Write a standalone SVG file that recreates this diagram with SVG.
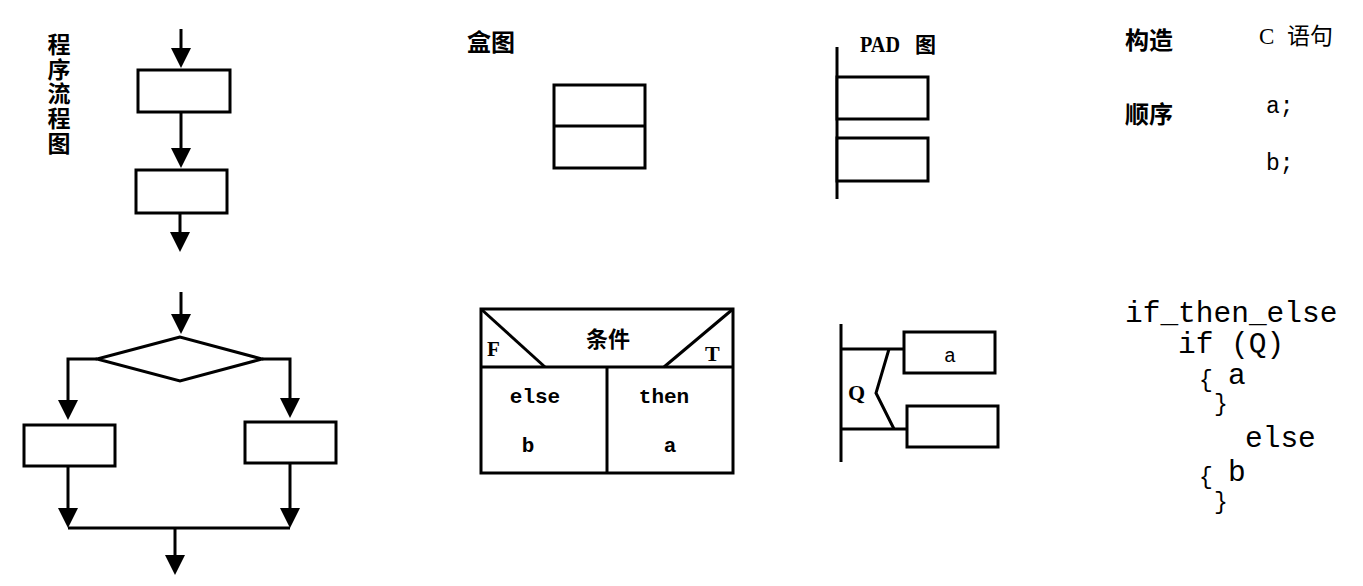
<svg xmlns="http://www.w3.org/2000/svg" width="1363" height="586" viewBox="0 0 1363 586">
<defs>
<style>
.s{fill:none;stroke:#000;stroke-width:3;stroke-linecap:butt;stroke-linejoin:miter}
.box{fill:#fff;stroke:#000;stroke-width:3}
.cjk{font-family:"Noto Sans CJK SC","Noto Sans CJK JP",sans-serif;font-weight:bold;fill:#000}
.cjkn{font-family:"Noto Sans CJK SC","Noto Sans CJK JP",sans-serif;font-weight:normal;fill:#000}
.ser{font-family:"Liberation Serif","Noto Sans CJK SC",serif;fill:#000}
.mono{font-family:"Liberation Mono","DejaVu Sans Mono",monospace;fill:#000}
.code{font-family:"Liberation Mono","DejaVu Sans Mono",monospace;fill:#000;font-size:29.5px}
.brace{font-family:"Liberation Mono","DejaVu Sans Mono",monospace;fill:#000;font-size:23px}
.arr{fill:none;stroke:#000;stroke-width:3;marker-end:url(#ah)}
</style>
<marker id="ah" viewBox="0 0 20 20" markerWidth="20" markerHeight="20" markerUnits="userSpaceOnUse" refX="15" refY="10" orient="auto">
<path d="M0,0 L20,10 L0,20 Z" fill="#000"/>
</marker>
</defs>
<rect width="1363" height="586" fill="#fff"/>

<!-- Program flowchart: sequence -->
<g id="flow-title">
<text class="cjk" x="59" y="33" font-size="23" writing-mode="vertical-rl" letter-spacing="1.6">程序流程图</text>
</g>
<g id="flow-box1"><rect class="box" x="138" y="70" width="92" height="42"/></g>
<g id="flow-box2"><rect class="box" x="136" y="170" width="91" height="43"/></g>

<!-- Program flowchart: selection -->
<g id="flow-diamond"><polygon class="box" points="180,337 97,359 180,381 262,359"/></g>
<g id="flow-left-box"><rect class="box" x="24" y="425" width="91" height="41"/></g>
<g id="flow-right-box"><rect class="box" x="245" y="422" width="91" height="41"/></g>

<!-- Box diagram (N-S) -->
<g id="box-title"><text class="cjk" x="467" y="51" font-size="24">盒图</text></g>
<g id="box-seq">
<rect class="box" x="554" y="85" width="91" height="83"/>
<line class="s" x1="554" y1="126" x2="645" y2="126"/>
</g>
<g id="box-if">
<rect class="box" x="481" y="309" width="252" height="164"/>
<line class="s" x1="481" y1="367" x2="733" y2="367"/>
<line class="s" x1="607" y1="367" x2="607" y2="473"/>
<line class="s" x1="481" y1="309" x2="545" y2="367"/>
<line class="s" x1="664" y1="367" x2="733" y2="309"/>
<text class="cjk" x="608" y="347" font-size="22" text-anchor="middle">条件</text>
<text class="ser" x="487" y="356" font-size="21" font-weight="bold">F</text>
<text class="ser" x="705" y="361" font-size="22" font-weight="bold">T</text>
<text class="mono" x="535" y="403" font-size="21" font-weight="bold" text-anchor="middle">else</text>
<text class="mono" x="528" y="452" font-size="21" font-weight="bold" text-anchor="middle">b</text>
<text class="mono" x="664" y="403" font-size="21" font-weight="bold" text-anchor="middle">then</text>
<text class="mono" x="670" y="452" font-size="21" font-weight="bold" text-anchor="middle">a</text>
</g>

<!-- PAD diagram -->
<g id="pad-title">
<text class="ser" x="860" y="52" font-size="24" font-weight="bold" textLength="40" lengthAdjust="spacingAndGlyphs">PAD</text>
<text class="cjk" x="915" y="52" font-size="21">图</text>
</g>
<g id="pad-seq">
<line class="s" x1="837" y1="47" x2="837" y2="199"/>
<rect class="box" x="837" y="77" width="91" height="42"/>
<rect class="box" x="837" y="138" width="91" height="43"/>
</g>
<g id="pad-if">
<line class="s" x1="841" y1="324" x2="841" y2="462"/>
<line class="s" x1="841" y1="349" x2="903" y2="349"/>
<line class="s" x1="841" y1="429" x2="907" y2="429"/>
<polyline class="s" points="889,349 876,393 894,429"/>
<rect class="box" x="904" y="332" width="91" height="41"/>
<rect class="box" x="907" y="406" width="91" height="41"/>
<text class="ser" x="848" y="400" font-size="22" font-weight="bold">Q</text>
<text class="mono" x="950" y="362" font-size="20" text-anchor="middle">a</text>
</g>

<!-- Construct / C statement column -->
<g id="col-construct">
<text class="cjk" x="1125" y="49" font-size="24">构造</text>
<text class="cjk" x="1125" y="123" font-size="24">顺序</text>
</g>
<g id="col-c">
<text class="ser" font-size="23"><tspan x="1259" y="44">C</tspan><tspan class="cjkn" x="1287" y="44">语句</tspan></text>
<text class="mono" x="1266" y="113" font-size="23">a;</text>
<text class="mono" x="1266" y="170" font-size="23">b;</text>
</g>
<g id="col-ifelse">
<text class="code" x="1125" y="322">if_then_else</text>
<text class="code" x="1178" y="353">if (Q)</text>
<text class="code"><tspan class="brace" x="1199" y="387">{</tspan><tspan x="1228" y="384">a</tspan></text>
<text class="brace" x="1214" y="411">}</text>
<text class="code" x="1245" y="447">else</text>
<text class="code"><tspan class="brace" x="1199" y="484">{</tspan><tspan x="1228" y="481">b</tspan></text>
<text class="brace" x="1214" y="509">}</text>
</g>

<!-- Connectors -->
<g id="connectors">
<path class="arr" d="M181,29 V63"/>
<path class="arr" d="M181,112 V163"/>
<path class="arr" d="M180,213 V247"/>
<path class="arr" d="M181,292 V329"/>
<path class="arr" d="M97,359 H68 V415"/>
<path class="arr" d="M262,359 H290 V413"/>
<path class="arr" d="M68,466 V523"/>
<path class="arr" d="M290,463 V523"/>
<path class="s" d="M68,528 H290"/>
<path class="arr" d="M175,528 V570"/>
</g>
</svg>
